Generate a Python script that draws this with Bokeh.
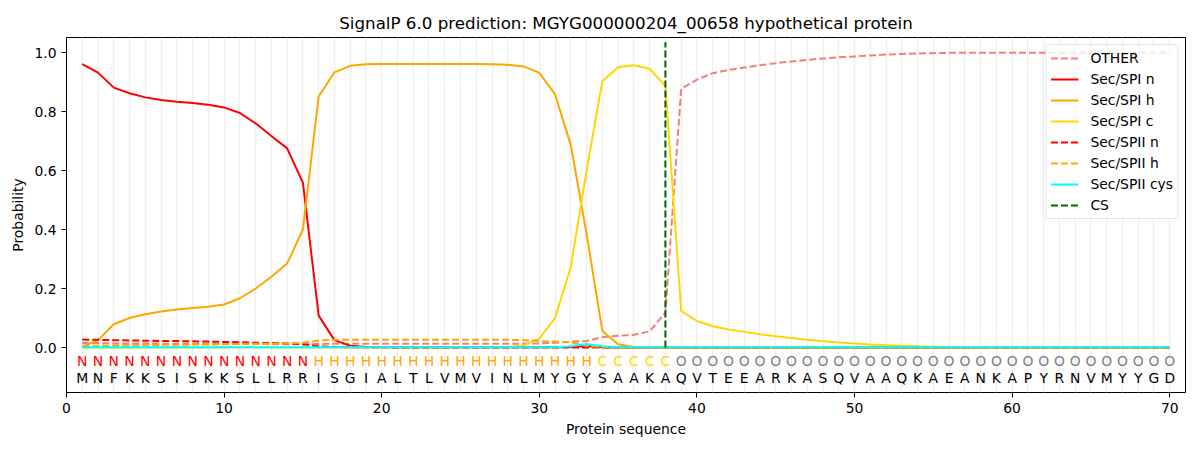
from bokeh.plotting import figure
from bokeh.models import FixedTicker, PrintfTickFormatter, ColumnDataSource, Legend, LegendItem
from bokeh.core.properties import value
from bokeh.embed import file_html
from bokeh.resources import INLINE

title_text = "SignalP 6.0 prediction: MGYG000000204_00658 hypothetical protein"
sequence = list("MNFKKSISKKSLLRRISGIALTLVMVINLMYGYSAAKAQVTEEARKASQVAAQKAEANKAPYRNVMYYGD")
labels = list("N" * 15 + "H" * 18 + "C" * 5 + "O" * 32)
positions = list(range(1, 71))
cs_position = 38
cs_top = 1.035

other = [0.015, 0.015, 0.014, 0.014, 0.014, 0.013, 0.013, 0.013, 0.013, 0.012,
         0.012, 0.012, 0.011, 0.011, 0.011, 0.012, 0.013, 0.013, 0.013, 0.013,
         0.013, 0.013, 0.013, 0.013, 0.013, 0.013, 0.013, 0.013, 0.013, 0.014,
         0.016, 0.020, 0.022, 0.035, 0.040, 0.043, 0.055, 0.118, 0.877, 0.908,
         0.930, 0.941, 0.949, 0.957, 0.964, 0.970, 0.975, 0.980, 0.984, 0.987,
         0.990, 0.993, 0.995, 0.997, 0.998, 0.999, 0.999, 0.999, 0.999, 0.999,
         0.999, 0.999, 0.999, 0.999, 0.999, 0.999, 0.999, 0.999, 0.999, 0.999]
spi_n = [0.961, 0.932, 0.881, 0.862, 0.848, 0.839, 0.833, 0.829, 0.823, 0.814,
         0.795, 0.760, 0.717, 0.675, 0.559, 0.108, 0.025, 0.006, 0.002, 0.001,
         0.001, 0.001, 0.001, 0.001, 0.001, 0.001, 0.001, 0.001, 0.001, 0.001,
         0.001, 0.002, 0.005, 0.001, 0.0, 0.0, 0.0, 0.0, 0.0, 0.0,
         0.0, 0.0, 0.0, 0.0, 0.0, 0.0, 0.0, 0.0, 0.0, 0.0,
         0.0, 0.0, 0.0, 0.0, 0.0, 0.0, 0.0, 0.0, 0.0, 0.0,
         0.0, 0.0, 0.0, 0.0, 0.0, 0.0, 0.0, 0.0, 0.0, 0.0]
spi_h = [0.003, 0.025, 0.079, 0.100, 0.113, 0.122, 0.129, 0.134, 0.138, 0.146,
         0.167, 0.200, 0.240, 0.285, 0.400, 0.851, 0.933, 0.955, 0.960, 0.961,
         0.961, 0.961, 0.961, 0.961, 0.961, 0.961, 0.960, 0.959, 0.953, 0.931,
         0.858, 0.686, 0.385, 0.056, 0.011, 0.002, 0.001, 0.0, 0.0, 0.0,
         0.0, 0.0, 0.0, 0.0, 0.0, 0.0, 0.0, 0.0, 0.0, 0.0,
         0.0, 0.0, 0.0, 0.0, 0.0, 0.0, 0.0, 0.0, 0.0, 0.0,
         0.0, 0.0, 0.0, 0.0, 0.0, 0.0, 0.0, 0.0, 0.0, 0.0]
spi_c = [0.0, 0.0, 0.0, 0.0, 0.0, 0.0, 0.0, 0.0, 0.0, 0.0,
         0.0, 0.0, 0.0, 0.0, 0.0, 0.0, 0.0, 0.0, 0.0, 0.0,
         0.0, 0.0, 0.0, 0.0, 0.001, 0.001, 0.001, 0.002, 0.007, 0.030,
         0.100, 0.274, 0.600, 0.903, 0.950, 0.957, 0.945, 0.886, 0.124, 0.090,
         0.072, 0.061, 0.053, 0.045, 0.038, 0.032, 0.026, 0.021, 0.017, 0.014,
         0.010, 0.008, 0.006, 0.004, 0.003, 0.002, 0.001, 0.001, 0.0, 0.0,
         0.0, 0.0, 0.0, 0.0, 0.0, 0.0, 0.0, 0.0, 0.0, 0.0]
spii_n = [0.027, 0.026, 0.025, 0.024, 0.023, 0.022, 0.022, 0.021, 0.020, 0.019,
          0.018, 0.016, 0.015, 0.014, 0.011, 0.004, 0.002, 0.001, 0.001, 0.001,
          0.0, 0.0, 0.0, 0.0, 0.0, 0.0, 0.0, 0.0, 0.0, 0.0,
          0.0, 0.0, 0.0, 0.0, 0.0, 0.0, 0.0, 0.0, 0.0, 0.0,
          0.0, 0.0, 0.0, 0.0, 0.0, 0.0, 0.0, 0.0, 0.0, 0.0,
          0.0, 0.0, 0.0, 0.0, 0.0, 0.0, 0.0, 0.0, 0.0, 0.0,
          0.0, 0.0, 0.0, 0.0, 0.0, 0.0, 0.0, 0.0, 0.0, 0.0]
spii_h = [0.005, 0.006, 0.007, 0.008, 0.008, 0.009, 0.009, 0.010, 0.010, 0.011,
          0.012, 0.013, 0.013, 0.014, 0.016, 0.024, 0.026, 0.026, 0.026, 0.026,
          0.026, 0.026, 0.026, 0.026, 0.026, 0.026, 0.026, 0.026, 0.025, 0.022,
          0.020, 0.018, 0.006, 0.001, 0.0, 0.0, 0.0, 0.0, 0.0, 0.0,
          0.0, 0.0, 0.0, 0.0, 0.0, 0.0, 0.0, 0.0, 0.0, 0.0,
          0.0, 0.0, 0.0, 0.0, 0.0, 0.0, 0.0, 0.0, 0.0, 0.0,
          0.0, 0.0, 0.0, 0.0, 0.0, 0.0, 0.0, 0.0, 0.0, 0.0]
spii_cys = [0.001] * 31 + [0.004, 0.012, 0.004] + [0.001] * 36

label_colors = {"N": "#ff0000", "H": "#ffa500", "C": "#ffd700", "O": "#808080"}
FONT = "DejaVu Sans"
FS = "13.9px"

p = figure(width=1192, height=442, output_backend="svg", toolbar_location=None,
           x_range=(0, 71), y_range=(-0.1525, 1.051),
           min_border_left=66, min_border_right=7, min_border_top=37, min_border_bottom=50)
p.title.text = title_text
p.title.align = "center"
p.title.text_font = FONT
p.title.text_font_size = "16.7px"
p.title.text_font_style = "normal"
p.title.text_color = "black"
p.title.offset = 0
p.background_fill_color = "white"
p.outline_line_color = "black"
p.outline_line_width = 1
p.outline_line_alpha = 1

p.ygrid.visible = False
p.xgrid.ticker = FixedTicker(ticks=positions)
p.xgrid.grid_line_color = "#efefef"
p.xgrid.grid_line_width = 1.5

p.xaxis.ticker = FixedTicker(ticks=[0, 10, 20, 30, 40, 50, 60, 70])
p.yaxis.ticker = FixedTicker(ticks=[0.0, 0.2, 0.4, 0.6, 0.8, 1.0])
p.yaxis.formatter = PrintfTickFormatter(format="%.1f")
for ax in (p.xaxis[0], p.yaxis[0]):
    ax.axis_line_color = None
    ax.major_tick_in = 0
    ax.major_tick_out = 5
    ax.major_tick_line_color = "black"
    ax.minor_tick_line_color = None
    ax.major_label_text_font = FONT
    ax.major_label_text_font_size = FS
    ax.major_label_text_color = "black"
    ax.axis_label_text_font = FONT
    ax.axis_label_text_font_size = FS
    ax.axis_label_text_font_style = "normal"
    ax.axis_label_text_color = "black"
p.xaxis.axis_label = "Protein sequence"
p.yaxis.axis_label = "Probability"

W = 2
r_other = p.line(positions, other, line_color="#f08080", line_width=W, line_dash="7 3")
r_spin = p.line(positions, spi_n, line_color="#ff0000", line_width=W)
r_spih = p.line(positions, spi_h, line_color="#ffa500", line_width=W)
r_spic = p.line(positions, spi_c, line_color="#ffd700", line_width=W)
r_spiin = p.line(positions, spii_n, line_color="#ff0000", line_width=W, line_dash="7 3")
r_spiih = p.line(positions, spii_h, line_color="#ffa500", line_width=W, line_dash="7 3")
r_cys = p.line(positions, spii_cys, line_color="#00ffff", line_width=W)
r_cs = p.line([cs_position, cs_position], [0, cs_top], line_color="#006400", line_width=W, line_dash="7 3")

src = ColumnDataSource(dict(x=positions, aa=sequence, lab=labels,
                            col=[label_colors[l] for l in labels],
                            y1=[-0.047] * len(positions), y2=[-0.102] * len(positions)))
p.text(x="x", y="y1", text="lab", source=src, text_color="col", text_font=value(FONT),
       text_font_size=FS, text_align="center", text_baseline="middle")
p.text(x="x", y="y2", text="aa", source=src, text_color="#000000", text_font=value(FONT),
       text_font_size=FS, text_align="center", text_baseline="middle")

legend = Legend(items=[
    LegendItem(label="OTHER", renderers=[r_other]),
    LegendItem(label="Sec/SPI n", renderers=[r_spin]),
    LegendItem(label="Sec/SPI h", renderers=[r_spih]),
    LegendItem(label="Sec/SPI c", renderers=[r_spic]),
    LegendItem(label="Sec/SPII n", renderers=[r_spiin]),
    LegendItem(label="Sec/SPII h", renderers=[r_spiih]),
    LegendItem(label="Sec/SPII cys", renderers=[r_cys]),
    LegendItem(label="CS", renderers=[r_cs]),
], location="top_right")
legend.label_text_font = FONT
legend.label_text_font_size = FS
legend.label_text_color = "black"
legend.glyph_width = 28
legend.glyph_height = 18
legend.label_height = 18
legend.spacing = 3
legend.label_standoff = 12
legend.padding = 4
legend.margin = 7
legend.border_line_color = "#cccccc"
legend.border_line_width = 1
legend.background_fill_alpha = 0.8
p.add_layout(legend)

open("out.html", "w").write(file_html(p, INLINE))
